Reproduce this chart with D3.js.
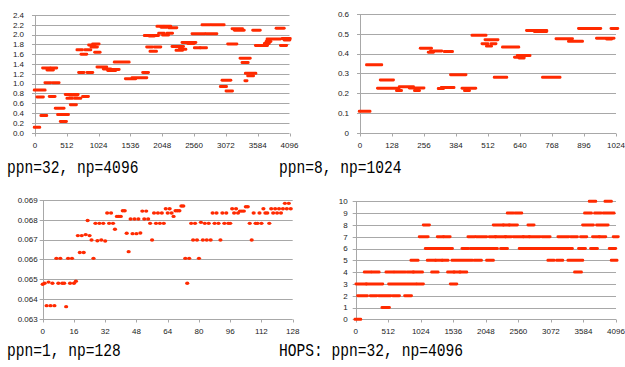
<!DOCTYPE html>
<html>
<head>
<meta charset="utf-8">
<script src="https://cdn.jsdelivr.net/npm/d3@7"></script>
<style>
  body { margin: 0; background: #fff; }
  svg { display: block; }
</style>
</head>
<body>
<div id="chart"></div>
<script>
// ---- data ----
// runs of ranks with the same value: [firstRank, lastRank, value]
const ppn32Runs = [
  [0, 64, 0.11], [0, 150, 0.87], [43, 123, 0.73], [107, 177, 0.35], [134, 230, 1.32],
  [204, 285, 1.28], [172, 241, 1.02], [241, 311, 0.74], [268, 338, 1.32], [295, 376, 1.02],
  [338, 456, 0.50], [376, 429, 0.37], [419, 494, 0.23], [456, 526, 0.37], [499, 574, 0.78],
  [526, 590, 0.70], [564, 671, 0.77], [580, 655, 0.57], [628, 682, 0.78], [650, 725, 0.70],
  [687, 752, 1.69], [714, 778, 1.23], [752, 821, 1.60], [778, 848, 0.74], [816, 886, 1.69],
  [848, 918, 1.23], [875, 956, 1.79], [913, 993, 1.75], [940, 1020, 1.81], [972, 1036, 1.64],
  [1009, 1143, 1.34], [1111, 1208, 1.30], [1181, 1288, 1.27], [1235, 1342, 1.29],
  [1288, 1503, 1.44], [1466, 1610, 1.10], [1573, 1788, 1.12], [1745, 1815, 1.23],
  [1771, 1852, 1.98], [1809, 1879, 1.75], [1852, 1906, 1.97], [1863, 1943, 1.66],
  [1895, 1975, 1.98], [1933, 2013, 1.75], [1975, 2056, 2.17], [2002, 2067, 2.03],
  [2040, 2110, 2.15], [2067, 2136, 1.99], [2094, 2174, 2.17], [2136, 2201, 2.03],
  [2163, 2271, 2.14], [2217, 2378, 1.76], [2282, 2362, 1.68], [2335, 2416, 1.70],
  [2378, 2577, 1.84], [2469, 2550, 1.82], [2539, 2721, 2.02], [2577, 2646, 1.73],
  [2673, 2748, 1.73], [2700, 2807, 2.20], [2764, 2915, 2.02], [2855, 3032, 2.20],
  [2995, 3070, 0.94], [3022, 3140, 1.07], [3086, 3167, 0.85], [3113, 3237, 1.81],
  [3183, 3328, 2.12], [3221, 3355, 2.09], [3312, 3452, 1.52], [3344, 3419, 1.43],
  [3390, 3400, 1.06], [3398, 3543, 1.21], [3435, 3505, 1.16], [3516, 3613, 2.09],
  [3559, 3731, 1.78], [3704, 3758, 1.82], [3731, 3785, 1.86], [3747, 3935, 1.91],
  [3892, 3999, 2.13], [3962, 4037, 1.78], [3988, 4096, 1.92], [4020, 4090, 1.89]
];
const ppn32XTicks = [0, 512, 1024, 1536, 2048, 2560, 3072, 3584, 4096];
const ppn32YTicks = [0, 0.2, 0.4, 0.6, 0.8, 1.0, 1.2, 1.4, 1.6, 1.8, 2.0, 2.2, 2.4];

const ppn8Runs = [
  [0, 37, 0.108], [29, 84, 0.343], [73, 153, 0.225], [84, 131, 0.267], [149, 163, 0.213],
  [160, 211, 0.232], [200, 253, 0.226], [221, 235, 0.213], [244, 283, 0.427], [276, 291, 0.407],
  [285, 324, 0.413], [316, 331, 0.223], [328, 347, 0.228], [340, 367, 0.410], [357, 373, 0.228],
  [365, 421, 0.293], [411, 460, 0.225], [421, 435, 0.213], [451, 501, 0.492], [491, 509, 0.450],
  [503, 549, 0.470], [509, 523, 0.438], [527, 541, 0.450], [540, 584, 0.280], [573, 632, 0.433],
  [621, 653, 0.382], [640, 653, 0.377], [632, 677, 0.390], [669, 744, 0.517], [700, 744, 0.512],
  [733, 797, 0.280], [787, 847, 0.475], [837, 887, 0.462], [877, 960, 0.527], [949, 1013, 0.478],
  [990, 1003, 0.473], [1007, 1028, 0.527]
];
const ppn8XTicks = [0, 128, 256, 384, 512, 640, 768, 896, 1024];
const ppn8YTicks = [0, 0.1, 0.2, 0.3, 0.4, 0.5, 0.6];

// one value per rank, ranks 0..127
const ppn1Values = [
  0.06474, 0.06479, 0.06366, 0.06485, 0.06366, 0.06479, 0.06366, 0.06605, 0.06479, 0.06605,
  0.06479, 0.06479, 0.06361, 0.06605, 0.06479, 0.06605, 0.06479, 0.06489, 0.06720, 0.06635,
  0.06720, 0.06635, 0.06725, 0.06796, 0.06720, 0.06698, 0.06605, 0.06782, 0.06694, 0.06782,
  0.06698, 0.06782, 0.06693, 0.06834, 0.06782, 0.06834, 0.06782, 0.06752, 0.06817, 0.06817,
  0.06817, 0.06846, 0.06846, 0.06732, 0.06639, 0.06804, 0.06730, 0.06804, 0.06730, 0.06804,
  0.06733, 0.06844, 0.06804, 0.06844, 0.06804, 0.06782, 0.06698, 0.06834, 0.06782, 0.06834,
  0.06782, 0.06834, 0.06782, 0.06856, 0.06834, 0.06856, 0.06834, 0.06817, 0.06846, 0.06846,
  0.06846, 0.06870, 0.06870, 0.06605, 0.06479, 0.06605, 0.06782, 0.06698, 0.06782, 0.06698,
  0.06605, 0.06787, 0.06698, 0.06782, 0.06698, 0.06782, 0.06698, 0.06834, 0.06782, 0.06834,
  0.06782, 0.06698, 0.06834, 0.06782, 0.06834, 0.06782, 0.06782, 0.06856, 0.06834, 0.06856,
  0.06834, 0.06844, 0.06844, 0.06844, 0.06866, 0.06866, 0.06782, 0.06698, 0.06834, 0.06782,
  0.06782, 0.06834, 0.06782, 0.06856, 0.06834, 0.06834, 0.06782, 0.06856, 0.06834, 0.06856,
  0.06834, 0.06856, 0.06834, 0.06856, 0.06883, 0.06856, 0.06883, 0.06856
];
const ppn1XTicks = [0, 16, 32, 48, 64, 80, 96, 112, 128];
const ppn1YTicks = [0.063, 0.064, 0.065, 0.066, 0.067, 0.068, 0.069];

const hopsRuns = [
  [0, 68, 0], [425, 519, 1],
  [42, 173, 2], [241, 320, 2], [372, 540, 2], [593, 677, 2], [782, 866, 2],
  [16, 157, 3], [178, 414, 3], [530, 939, 3], [976, 1054, 3], [1500, 1579, 3],
  [147, 226, 4], [268, 357, 4], [488, 582, 4], [624, 771, 4], [824, 897, 4], [918, 1039, 4],
  [1207, 1285, 4], [1458, 1537, 4], [1558, 1631, 4], [1652, 1736, 4], [3456, 3540, 4],
  [881, 970, 5], [1138, 1243, 5], [1270, 1348, 5], [1374, 1442, 5], [1526, 1825, 5],
  [1878, 1967, 5], [2071, 2155, 5], [3036, 3110, 5], [3173, 3247, 5], [3351, 3561, 5],
  [4033, 4100, 5],
  [1107, 1196, 6], [1233, 1317, 6], [1327, 1511, 6], [1684, 1763, 6], [1815, 1920, 6],
  [1946, 2113, 6], [2134, 2218, 6], [2292, 2376, 6], [2585, 2769, 6], [2785, 2984, 6],
  [3005, 3215, 6], [3236, 3398, 6], [3519, 3603, 6], [3708, 3792, 6], [4002, 4080, 6],
  [1012, 1128, 7], [1296, 1369, 7], [1395, 1474, 7], [1778, 1862, 7], [1904, 2050, 7],
  [2113, 2192, 7], [2208, 2350, 7], [2365, 2439, 7], [2491, 2627, 7], [2648, 2722, 7],
  [2743, 2890, 7], [2942, 3047, 7], [3194, 3341, 7], [3393, 3477, 7], [3550, 3624, 7],
  [3739, 3823, 7], [3844, 3923, 7], [4064, 4120, 7],
  [1075, 1149, 8], [2176, 2313, 8], [2334, 2407, 8], [2428, 2533, 8], [2722, 2795, 8],
  [3582, 3729, 8], [3802, 3960, 8],
  [2397, 2470, 9], [2522, 2601, 9], [3613, 3698, 9], [3771, 3850, 9], [3907, 4054, 9],
  [3687, 3766, 10], [3934, 4012, 10]
];
const hopsXTicks = [0, 512, 1024, 1536, 2048, 2560, 3072, 3584, 4096];
const hopsYTicks = [0, 1, 2, 3, 4, 5, 6, 7, 8, 9, 10];

const titles = ['ppn=32, np=4096', 'ppn=8, np=1024', 'ppn=1, np=128', 'HOPS: ppn=32, np=4096'];

// ---- drawing ----
const W = 625, H = 367;
const RED = '#ff2a00';
const GRID = '#a8a8a8';

const svg = d3.select('#chart').append('svg')
  .attr('width', W).attr('height', H)
  .style('background', '#fff');

const panels = [
  { left: 35, right: 289.5, top: 15, bottom: 132.7, labelGap: 11,
    xTicks: ppn32XTicks, yTicks: ppn32YTicks, fmt: d3.format('.1f'), runs: ppn32Runs,
    title: titles[0], tx: 7, ty: 173 },
  { left: 360, right: 616, top: 14, bottom: 132.7, labelGap: 11,
    xTicks: ppn8XTicks, yTicks: ppn8YTicks, fmt: d => d === 0 ? '0' : d3.format('.1f')(d), runs: ppn8Runs,
    title: titles[1], tx: 279, ty: 173 },
  { left: 42.7, right: 292.7, top: 200, bottom: 318.7, labelGap: 5,
    xTicks: ppn1XTicks, yTicks: ppn1YTicks, fmt: d3.format('.3f'), points: ppn1Values,
    title: titles[2], tx: 7, ty: 356 },
  { left: 355.7, right: 616, top: 201.3, bottom: 319.3, labelGap: 8,
    xTicks: hopsXTicks, yTicks: hopsYTicks, fmt: d3.format('d'), runs: hopsRuns,
    title: titles[3], tx: 279, ty: 356 }
];

const crisp = v => Math.round(v) + 0.5;

panels.forEach(p => {
  const x = d3.scaleLinear()
    .domain([p.xTicks[0], p.xTicks[p.xTicks.length - 1]])
    .range([p.left, p.right]);
  const y = d3.scaleLinear()
    .domain([p.yTicks[0], p.yTicks[p.yTicks.length - 1]])
    .range([p.bottom, p.top]);

  const g = svg.append('g');

  // horizontal grid lines
  g.selectAll('line.grid')
    .data(p.yTicks)
    .enter()
    .append('line')
    .attr('x1', p.left - 3).attr('x2', p.right)
    .attr('y1', d => crisp(y(d))).attr('y2', d => crisp(y(d)))
    .attr('stroke', GRID).attr('stroke-width', 1);

  // left axis line
  g.append('line')
    .attr('x1', crisp(p.left)).attr('x2', crisp(p.left))
    .attr('y1', p.top).attr('y2', crisp(p.bottom))
    .attr('stroke', GRID);

  // x tick marks
  g.selectAll('line.xt')
    .data(p.xTicks)
    .enter()
    .append('line')
    .attr('x1', d => crisp(x(d))).attr('x2', d => crisp(x(d)))
    .attr('y1', crisp(p.bottom)).attr('y2', crisp(p.bottom) + 3)
    .attr('stroke', GRID);

  // y labels
  g.selectAll('text.yl')
    .data(p.yTicks)
    .enter()
    .append('text')
    .attr('x', p.left - p.labelGap)
    .attr('y', d => y(d))
    .attr('dy', '0.35em')
    .attr('text-anchor', 'end')
    .style('font-family', 'Liberation Sans, Arial, sans-serif')
    .style('font-size', '8px')
    .attr('fill', '#222')
    .text(p.fmt);

  // x labels
  g.selectAll('text.xl')
    .data(p.xTicks)
    .enter()
    .append('text')
    .attr('x', d => x(d))
    .attr('y', p.bottom + 15)
    .attr('text-anchor', 'middle')
    .style('font-family', 'Liberation Sans, Arial, sans-serif')
    .style('font-size', '8px')
    .attr('fill', '#222')
    .text(d => d);

  // marks
  if (p.runs) {
    g.selectAll('rect.run')
      .data(p.runs)
      .enter()
      .append('rect')
      .attr('x', d => x(d[0]) - 2.2)
      .attr('width', d => Math.max(x(d[1]) - x(d[0]), 0) + 4.4)
      .attr('y', d => y(d[2]) - 1.5)
      .attr('height', 3)
      .attr('rx', 1.4)
      .attr('fill', RED);
  }
  if (p.points) {
    g.selectAll('ellipse.pt')
      .data(p.points)
      .enter()
      .append('ellipse')
      .attr('cx', (d, i) => x(i))
      .attr('cy', d => y(d))
      .attr('rx', 2.1).attr('ry', 1.7)
      .attr('fill', RED);
  }

  // caption
  svg.append('text')
    .attr('x', p.tx)
    .attr('y', p.ty)
    .style('font-family', 'Liberation Mono, Courier New, monospace')
    .style('font-size', '18px')
    .attr('textLength', p.title.length * 8.76)
    .attr('lengthAdjust', 'spacingAndGlyphs')
    .attr('fill', '#000')
    .text(p.title);
});
</script>
</body>
</html>
